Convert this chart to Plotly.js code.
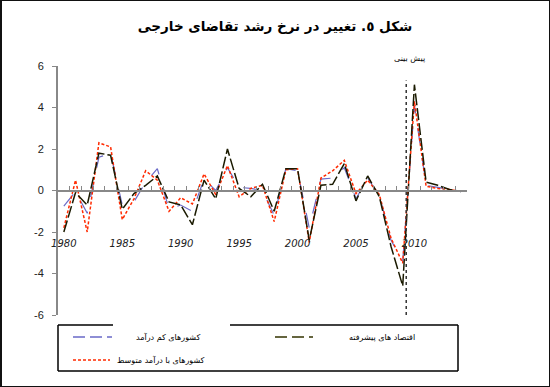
<!DOCTYPE html>
<html>
<head>
<meta charset="utf-8">
<script src="https://cdn.plot.ly/plotly-3.0.1.min.js"></script>
<style>
html,body{margin:0;padding:0;background:#fff;}
#chart{width:550px;height:387px;}
#frame{position:absolute;left:0;top:0;width:550px;height:387px;box-sizing:border-box;border:1px solid #111;border-left-width:2px;pointer-events:none;}
</style>
</head>
<body>
<div id="chart"></div>
<div id="frame"></div>
<script>
// ---- data ----
const years = [1980,1981,1982,1983,1984,1985,1986,1987,1988,1989,
               1990,1991,1992,1993,1994,1995,1996,1997,1998,1999,
               2000,2001,2002,2003,2004,2005,2006,2007,2008,2009,
               2010,2011,2012,2013,2014];
const advanced = [-2.0,-0.1,-0.7,1.8,1.7,-0.9,-0.15,0.25,0.7,-0.55,
                  -0.7,-1.65,0.5,-0.4,2.0,0.1,-0.3,0.3,-1.0,1.05,
                  1.05,-2.4,0.25,0.3,1.3,-0.5,0.7,-0.3,-2.7,-4.6,
                  5.1,0.4,0.25,0.05,-0.05];
const lowIncome = [-0.75,-0.05,-1.1,1.6,1.8,-0.7,-0.55,0.4,1.05,-0.9,
                   -0.7,-1.0,0.55,0.0,1.1,0.15,0.1,0.0,-1.2,1.05,
                   0.95,-1.8,0.55,0.6,1.1,-0.4,0.6,-0.25,-2.4,-3.4,
                   4.1,0.25,0.15,0.05,-0.05];
const middleIncome = [-1.8,0.5,-2.0,2.3,2.1,-1.4,-0.4,0.95,0.5,-1.0,
                      -0.35,-0.65,0.8,-0.2,1.2,-0.3,0.1,0.25,-1.5,1.0,
                      1.05,-2.5,0.6,0.95,1.45,-0.15,0.5,-0.2,-2.3,-3.5,
                      4.3,0.2,0.1,0.05,-0.05];
const yTickVals = [-6,-4,-2,0,2,4,6];
const yTickText = ["-6","-4","-2","0","2","4","6"];
const xLabelYears = [1980,1985,1990,1995,2000,2005,2010];
const forecastStart = 2009.3;

const seriesNames = {
  advanced: "اقتصاد های پیشرفته",
  low: "کشورهای کم درآمد",
  middle: "کشورهای با درآمد متوسط"
};
const titleText = "شکل ٥. تغییر در نرخ رشد تقاضای خارجی";
const forecastText = "پیش بینی";

// ---- layout helpers (pixel -> paper) ----
const L = 58, R = 83, T = 66, B = 72, W = 550, H = 387;
const pw = W - L - R, ph = H - T - B;
const px = x => (x - L) / pw;
const py = y => (H - B - y) / ph;

// category-style axis: tick marks between years, labels on the years
const xRange = [years[0] - 0.5, years[years.length - 1] + 0.5];
const xTickMarks = years.map(y => y - 0.5).concat([xRange[1]]);

const cBlack = "#1a1a00", cBlue = "#6a6ac8", cRed = "#ff2a00";

const traces = [
  {x: years, y: lowIncome, mode: "lines", name: seriesNames.low,
   line: {color: cBlue, width: 1.2, dash: "longdash"}},
  {x: years, y: middleIncome, mode: "lines", name: seriesNames.middle,
   line: {color: cRed, width: 1.5, dash: "3px,2px"}},
  {x: years, y: advanced, mode: "lines", name: seriesNames.advanced, xaxis: "x2", yaxis: "y",
   line: {color: cBlack, width: 1.5, dash: "12px,3px"}}
];

const legFont = {family: "DejaVu Sans, sans-serif", size: 8, color: "#000"};
function legText(t, xRight, y) {
  return {text: t, xref: "paper", yref: "paper", x: px(xRight), y: py(y), xanchor: "right", yanchor: "middle",
          showarrow: false, font: legFont};
}
const layout = {
  width: W, height: H,
  margin: {l: L, r: R, t: T, b: B, pad: 0},
  paper_bgcolor: "#fff", plot_bgcolor: "#fff",
  showlegend: false,
  title: {text: titleText, x: 0.5, xanchor: "center", y: 1 - 26 / H, yanchor: "middle",
          font: {family: "DejaVu Sans, sans-serif", size: 13.5, color: "#000", weight: "bold"}},
  xaxis: {
    range: xRange, anchor: "free", position: 0.5,
    showgrid: false, zeroline: false,
    showline: true, linecolor: "#888", linewidth: 2,
    tickmode: "array", tickvals: xTickMarks,
    ticks: "inside", ticklen: 4, tickcolor: "#888", tickwidth: 1,
    showticklabels: false
  },
  xaxis2: {
    range: xRange, overlaying: "x", anchor: "free", position: 0.5,
    showgrid: false, zeroline: false, showline: false,
    tickmode: "array", tickvals: xLabelYears, ticks: "",
    ticklabelstandoff: 45,
    tickfont: {family: "DejaVu Sans, sans-serif", size: 10, color: "#222", style: "italic"}
  },
  yaxis: {
    range: [-6, 6], showgrid: false, zeroline: false,
    showline: true, linecolor: "#888", linewidth: 2,
    tickvals: yTickVals, ticktext: yTickText,
    ticks: "outside", ticklen: 4, tickcolor: "#888",
    ticklabelstandoff: 6,
    tickfont: {family: "Liberation Sans, Arial, sans-serif", size: 11, color: "#222"}
  },
  shapes: [
    {type: "line", xref: "x", yref: "y", x0: forecastStart, x1: forecastStart, y0: -6, y1: 5.3,
     line: {color: "#333", width: 1.5, dash: "dot"}},
    // legend box (top border has a gap)
    {type: "line", xref: "paper", yref: "paper", x0: px(58), x1: px(113), y0: py(325), y1: py(325), line: {color: "#000", width: 1.5}},
    {type: "line", xref: "paper", yref: "paper", x0: px(230), x1: px(458), y0: py(325), y1: py(325), line: {color: "#000", width: 1.5}},
    {type: "line", xref: "paper", yref: "paper", x0: px(58), x1: px(458), y0: py(371), y1: py(371), line: {color: "#000", width: 1.5}},
    {type: "line", xref: "paper", yref: "paper", x0: px(58), x1: px(58), y0: py(325), y1: py(371), line: {color: "#000", width: 1.5}},
    {type: "line", xref: "paper", yref: "paper", x0: px(458), x1: px(458), y0: py(325), y1: py(371), line: {color: "#000", width: 1.5}},
    // legend samples
    {type: "line", xref: "paper", yref: "paper", x0: px(73), x1: px(112), y0: py(337), y1: py(337), line: {color: cBlue, width: 1.5, dash: "12px,5px"}},
    {type: "line", xref: "paper", yref: "paper", x0: px(73), x1: px(110), y0: py(360), y1: py(360), line: {color: cRed, width: 1.5, dash: "3px,2px"}},
    {type: "line", xref: "paper", yref: "paper", x0: px(275), x1: px(313), y0: py(337), y1: py(337), line: {color: "#333300", width: 1.5, dash: "12px,5px"}}
  ],
  annotations: [
    {text: forecastText, xref: "x", yref: "paper", x: 2009.55, y: py(58), xanchor: "center", yanchor: "middle",
     showarrow: false, font: {family: "DejaVu Sans, sans-serif", size: 8, color: "#000"}},
    legText(seriesNames.low, 202, 337),
    legText(seriesNames.middle, 207, 360),
    legText(seriesNames.advanced, 417, 337)
  ]
};

Plotly.newPlot("chart", traces, layout, {displayModeBar: false, staticPlot: true});
</script>
</body>
</html>
